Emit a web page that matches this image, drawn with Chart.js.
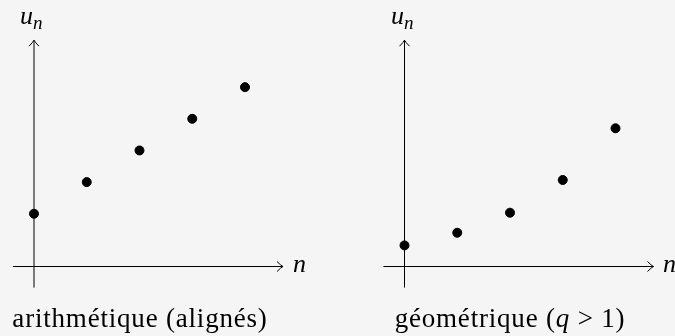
<!DOCTYPE html>
<html>
<head>
<meta charset="utf-8">
<script src="https://cdn.jsdelivr.net/npm/chart.js@4/dist/chart.umd.min.js"></script>
<style>
  html, body { margin: 0; padding: 0; background: #f4f5f4; }
  #wrap { position: relative; width: 675px; height: 336px; overflow: hidden; font-family: "Liberation Serif", "DejaVu Serif", serif; color: #000; }
  canvas { position: absolute; top: 0; }
  .lbl { position: absolute; white-space: nowrap; line-height: 1; }
  .it { font-style: italic; }
  .un { font-size: 26px; }
  .un sub { font-size: 19px; vertical-align: -5px; }
  .cap { font-size: 27px; letter-spacing: 0.8px; transform: translateX(-50%); }
</style>
</head>
<body>
<div id="wrap">
  <canvas id="arith" width="340" height="336" style="left:0;width:340px;height:336px"></canvas>
  <canvas id="geo" width="335" height="336" style="left:340px;width:335px;height:336px"></canvas>

  <div class="lbl un it" style="left:20px;top:3px">u<sub>n</sub></div>
  <div class="lbl un it" style="left:391px;top:3px">u<sub>n</sub></div>
  <div class="lbl un it" style="left:293px;top:251px">n</div>
  <div class="lbl un it" style="left:663px;top:251px">n</div>

  <div class="lbl cap" style="left:140px;top:305px">arithmétique (alignés)</div>
  <div class="lbl cap" style="left:510px;top:305px">géométrique (<span class="it">q</span> &gt; 1)</div>
</div>
<script>
// rangs n et valeurs des deux suites
const nValues = [0, 1, 2, 3, 4];
const arithValues = [1.0, 1.6, 2.2, 2.8, 3.4];        // u_n = 1 + 0.6n
const geoValues = [0.4, 0.64, 1.02, 1.64, 2.62];      // u_n ≈ 0.4 * 1.6^n

// étendue des axes (en unités)
const xAxisFrom = -0.4, xAxisTo = 4.72;
const yAxisFrom = -0.4, yAxisTo = 4.29;

const UNIT = 52.75;   // px par unité
const Y0 = 266.5;     // position verticale de l'axe des abscisses

function arrow(ctx, x, y, dir) {
  // pointe ouverte style "->"
  ctx.save();
  ctx.translate(x, y);
  ctx.rotate(dir);
  ctx.beginPath();
  ctx.moveTo(-6, -5);
  ctx.quadraticCurveTo(-2, -1, 0, 0);
  ctx.quadraticCurveTo(-2, 1, -6, 5);
  ctx.stroke();
  ctx.restore();
}

const axesPlugin = {
  id: "axes",
  beforeDatasetsDraw(chart) {
    const ctx = chart.ctx;
    const xs = chart.scales.x, ys = chart.scales.y;
    const ox = xs.getPixelForValue(0), oy = ys.getPixelForValue(0);
    ctx.save();
    ctx.strokeStyle = "#000";
    ctx.lineWidth = 1;
    // axe des abscisses
    const xa = xs.getPixelForValue(xAxisFrom), xb = xs.getPixelForValue(xAxisTo);
    ctx.beginPath();
    ctx.moveTo(xa, oy);
    ctx.lineTo(xb, oy);
    ctx.stroke();
    arrow(ctx, xb, oy, 0);
    // axe des ordonnées
    const ya = ys.getPixelForValue(yAxisFrom), yb = ys.getPixelForValue(yAxisTo);
    ctx.beginPath();
    ctx.moveTo(ox, ya);
    ctx.lineTo(ox, yb);
    ctx.stroke();
    arrow(ctx, ox, yb, -Math.PI / 2);
    ctx.restore();
  }
};

function makeChart(id, values, x0) {
  const cv = document.getElementById(id);
  const W = cv.width, H = cv.height;
  return new Chart(cv, {
    type: "scatter",
    data: {
      datasets: [{
        data: nValues.map((n, i) => ({ x: n, y: values[i] })),
        backgroundColor: "#000",
        borderColor: "#000",
        pointRadius: 4.5,
        pointHoverRadius: 4.5,
        clip: false
      }]
    },
    options: {
      responsive: false,
      animation: false,
      layout: { padding: 0, autoPadding: false },
      plugins: { legend: { display: false }, tooltip: { enabled: false } },
      scales: {
        x: { type: "linear", display: false, min: -x0 / UNIT, max: (W - x0) / UNIT },
        y: { type: "linear", display: false, min: -(H - Y0) / UNIT, max: Y0 / UNIT }
      }
    },
    plugins: [axesPlugin]
  });
}

makeChart("arith", arithValues, 34);
makeChart("geo", geoValues, 64.5);
</script>
</body>
</html>
